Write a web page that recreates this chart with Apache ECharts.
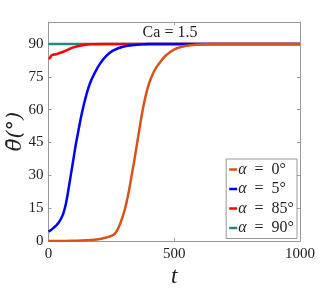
<!DOCTYPE html>
<html><head><meta charset="utf-8">
<script src="https://cdn.jsdelivr.net/npm/echarts@6/dist/echarts.min.js"></script>
<style>html,body{margin:0;padding:0;background:#fff}#c{width:332px;height:292px}</style>
</head><body><div id="c"></div>
<script>
const seriesNames = ['α = 0°', 'α = 5°', 'α = 85°', 'α = 90°'];
const colors = ['#D95319', '#0000FF', '#FF0000', '#1F8A80'];
const t0 = [0, 50, 100, 150, 200, 230, 250, 265, 280, 290, 300, 310, 320, 330, 340, 350, 360, 370, 380, 390, 400, 410, 420, 430, 440, 460, 480, 510, 550, 590, 650, 1000];
const v0 = [0, 0, 0.1, 0.3, 0.8, 1.6, 2.3, 3.5, 6.5, 9.5, 13, 17.5, 23, 29.5, 36, 43, 50, 57, 63, 68, 72, 75, 77.5, 79.5, 81, 84, 86, 88, 89.2, 89.7, 90, 90];
const t5 = [0, 10, 20, 30, 40, 50, 60, 70, 80, 90, 100, 110, 120, 130, 140, 150, 165, 185, 205, 230, 258, 300, 340, 400, 1000];
const v5 = [4.3, 5, 6, 7, 8.3, 10.3, 13, 17.5, 24, 31, 38, 45, 51, 57, 62, 66.5, 72, 77, 81, 84.5, 87, 88.8, 89.5, 90, 90];
const t85 = [0, 5, 13, 30, 59, 80, 99, 130, 165, 220, 1000];
const v85 = [83.3, 83.5, 84.8, 85.3, 86.4, 87.5, 88.4, 89.3, 89.8, 90, 90];
const t90 = [0, 1000];
const v90 = [90, 90];
const xTicks = [0, 500, 1000];
const yTicks = [0, 15, 30, 45, 60, 75, 90];
const titleText = 'Ca = 1.5';

const pairs = (t, v) => t.map((x, i) => [x, v[i]]);
const allData = [pairs(t0, v0), pairs(t5, v5), pairs(t85, v85), pairs(t90, v90)];
const font = 'Liberation Serif';
const axisCol = '#999';

const chart = echarts.init(document.getElementById('c'), null, {renderer: 'canvas'});
chart.setOption({
  animation: false,
  backgroundColor: '#fff',
  grid: {left: 48.5, right: 32, top: 22, bottom: 51, containLabel: false, outerBoundsMode: 'none'},
  graphic: [{type: 'text', x: 170, y: 33, style: {text: titleText, font: '16px "Liberation Serif"', fill: '#222', align: 'center', verticalAlign: 'middle'}}],
  legend: {
    orient: 'vertical', right: 35, top: 159,
    data: seriesNames,
    itemWidth: 8, itemHeight: 2.5, itemGap: 3.5,
    icon: 'rect',
    padding: [2.5, 3, 2.5, 3],
    backgroundColor: '#fff', borderColor: '#999', borderWidth: 1, borderRadius: 0,
    formatter: n => '{a|α}' + n.slice(1).replace(/ /g, '\u2002'),
    textStyle: {fontFamily: font, fontSize: 16, lineHeight: 16, color: '#222', padding: [0, 0, 0, -4],
      rich: {a: {fontFamily: font, fontSize: 16, fontStyle: 'italic', color: '#222'}}}
  },
  xAxis: [{
    type: 'value', min: 0, max: 1000, interval: 500,
    name: 't', nameLocation: 'middle', nameGap: 24, nameMoveOverlap: false,
    nameTextStyle: {fontFamily: font, fontSize: 23, fontStyle: 'italic', color: '#222'},
    axisLine: {onZero: false, lineStyle: {color: axisCol}},
    axisTick: {inside: true, length: 3, lineStyle: {color: axisCol}},
    axisLabel: {fontFamily: font, fontSize: 15, color: '#222', margin: 6,
      formatter: v => xTicks.includes(v) ? String(v) : ''},
    splitLine: {show: false}
  }, {
    type: 'value', position: 'top', min: 0, max: 1000, interval: 500,
    axisLine: {show: true, onZero: false, lineStyle: {color: axisCol}},
    axisTick: {inside: true, length: 3, lineStyle: {color: axisCol}},
    axisLabel: {show: false}, splitLine: {show: false}
  }],
  yAxis: [{
    type: 'value', min: 0, max: 100, interval: 15,
    name: 'θ̄(°)', nameLocation: 'middle', nameGap: 22, nameRotate: 90, nameMoveOverlap: false,
    nameTextStyle: {fontFamily: 'DejaVu Serif', fontSize: 21, fontStyle: 'italic', color: '#222'},
    axisLine: {show: true, onZero: false, lineStyle: {color: axisCol}},
    axisTick: {inside: true, length: 3, lineStyle: {color: axisCol}},
    axisLabel: {fontFamily: font, fontSize: 15, color: '#222', margin: 5, showMaxLabel: false,
      formatter: v => yTicks.includes(v) ? String(v) : ''},
    splitLine: {show: false}
  }, {
    type: 'value', position: 'right', min: 0, max: 100, interval: 15,
    axisLine: {show: true, onZero: false, lineStyle: {color: axisCol}},
    axisTick: {inside: true, length: 3, lineStyle: {color: axisCol}},
    axisLabel: {show: false}, splitLine: {show: false}
  }],
  series: seriesNames.map((n, i) => ({
    name: n, type: 'line', data: allData[i],
    showSymbol: false, smooth: 0.4,
    lineStyle: {width: 2.5, color: colors[i]}, itemStyle: {color: colors[i]},
    z: 10 - i
  }))
});
</script></body></html>
